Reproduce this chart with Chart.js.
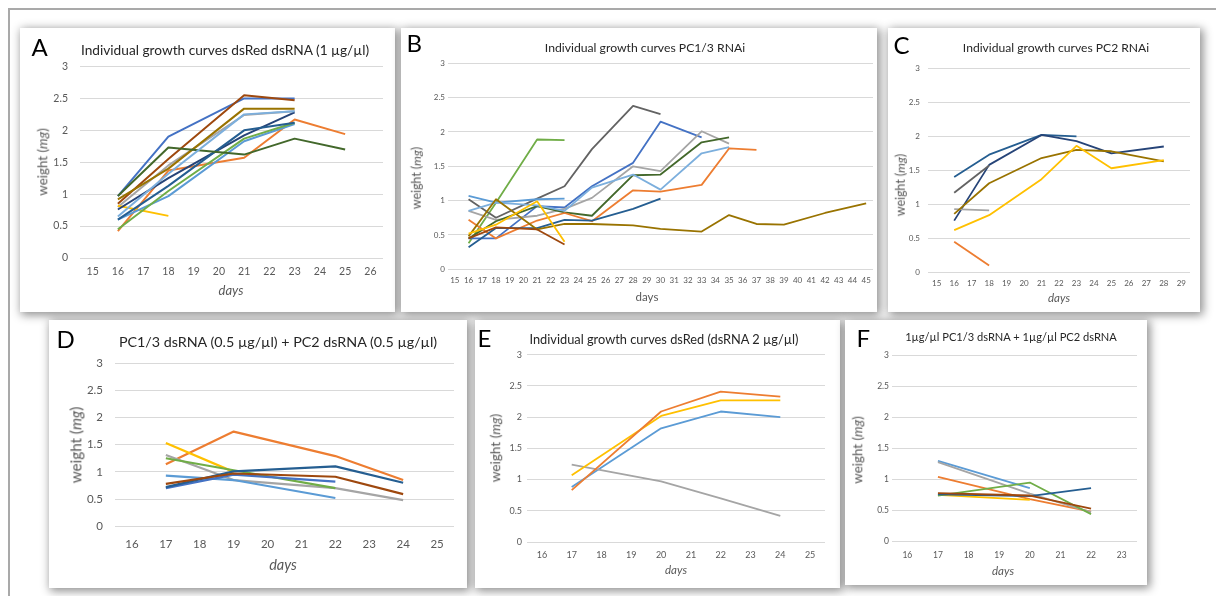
<!DOCTYPE html>
<html>
<head>
<meta charset="utf-8">
<script src="https://cdn.jsdelivr.net/npm/chart.js@4"></script>
<style>
  html, body { margin: 0; padding: 0; background: #fff; }
  body { width: 1216px; height: 596px; position: relative; overflow: hidden; font-family: Lato, "Open Sans", sans-serif; }
  .frame { position: absolute; left: 8px; top: 8px; width: 1220px; height: 600px;
           border-top: 2px solid #a9a9a9; border-left: 2px solid #a9a9a9; }
  .panel { position: absolute; background: #fff; box-shadow: 2px 2px 9px 1px rgba(0,0,0,0.45); }
  .panel canvas { position: absolute; left: 0; top: 0; }
  .letter { position: absolute; font-size: 24px; line-height: 1; color: #000; }
  .title, .ytitle, .xtitle { position: absolute; line-height: 1; white-space: nowrap; transform: translate(-50%, -50%); }
  .title { color: #262626; }
  .ytitle, .xtitle { color: #595959; }
  .ytitle { transform: translate(-50%, -50%) rotate(-90deg); }
</style>
</head>
<body>
<div class="frame"></div>

<div class="panel" style="left:20px;top:28px;width:375px;height:284px">
  <canvas id="chartA" width="375" height="284"></canvas>
  <div class="letter" style="left:11.5px;top:7px">A</div>
  <div class="title" style="left:205px;top:22px;font-size:13.7px">Individual growth curves dsRed dsRNA (1 µg/µl)</div>
  <div class="ytitle" style="left:22.5px;top:134px;font-size:13.4px">weight (<i>mg</i>)</div>
  <div class="xtitle" style="left:211px;top:262px;font-size:13px"><i>days</i></div>
</div>

<div class="panel" style="left:401px;top:28px;width:476px;height:284px">
  <canvas id="chartB" width="476" height="284"></canvas>
  <div class="letter" style="left:5.5px;top:3px">B</div>
  <div class="title" style="left:244px;top:20px;font-size:12.2px">Individual growth curves PC1/3 RNAi</div>
  <div class="ytitle" style="left:15.5px;top:150px;font-size:12.4px">weight (<i>mg</i>)</div>
  <div class="xtitle" style="left:246px;top:269px;font-size:11.5px">days</div>
</div>

<div class="panel" style="left:888px;top:28px;width:312px;height:284px">
  <canvas id="chartC" width="312" height="284"></canvas>
  <div class="letter" style="left:5.5px;top:5px">C</div>
  <div class="title" style="left:168px;top:20px;font-size:12.1px">Individual growth curves PC2 RNAi</div>
  <div class="ytitle" style="left:12.5px;top:157px;font-size:12.4px">weight (<i>mg</i>)</div>
  <div class="xtitle" style="left:171px;top:270px;font-size:11.5px"><i>days</i></div>
</div>

<div class="panel" style="left:49px;top:320px;width:418px;height:268px">
  <canvas id="chartD" width="418" height="268"></canvas>
  <div class="letter" style="left:7.5px;top:7px">D</div>
  <div class="title" style="left:229px;top:22px;font-size:14.3px">PC1/3 dsRNA (0.5 µg/µl) + PC2 dsRNA (0.5 µg/µl)</div>
  <div class="ytitle" style="left:27px;top:125px;font-size:15.2px">weight (<i>mg</i>)</div>
  <div class="xtitle" style="left:234px;top:245px;font-size:14.5px"><i>days</i></div>
</div>

<div class="panel" style="left:475px;top:320px;width:365px;height:268px">
  <canvas id="chartE" width="365" height="268"></canvas>
  <div class="letter" style="left:2.5px;top:6px">E</div>
  <div class="title" style="left:189px;top:19px;font-size:12.8px">Individual growth curves dsRed (dsRNA 2 µg/µl)</div>
  <div class="ytitle" style="left:21px;top:128px;font-size:13.6px">weight (<i>mg</i>)</div>
  <div class="xtitle" style="left:201px;top:250px;font-size:11.5px"><i>days</i></div>
</div>

<div class="panel" style="left:845px;top:320px;width:302px;height:265px">
  <canvas id="chartF" width="302" height="265"></canvas>
  <div class="letter" style="left:11.5px;top:6px">F</div>
  <div class="title" style="left:166px;top:17px;font-size:11.1px">1µg/µl PC1/3 dsRNA + 1µg/µl PC2 dsRNA</div>
  <div class="ytitle" style="left:13px;top:130px;font-size:13.4px">weight (<i>mg</i>)</div>
  <div class="xtitle" style="left:158px;top:251px;font-size:11.5px"><i>days</i></div>
</div>

<script>
// Excel-style series colours
const BLUE = '#4472C4', ORANGE = '#ED7D31', GRAY = '#A5A5A5', YELLOW = '#FFC000',
      LBLUE = '#5B9BD5', GREEN = '#70AD47', NAVY = '#264478', BROWN = '#9E480E',
      DGRAY = '#636363', OLIVE = '#997300', STEEL = '#255E91', DGREEN = '#43682B', SKY = '#7CAFDD';

function range(a, b) { const r = []; for (let i = a; i <= b; i++) r.push(String(i)); return r; }

// A - dsRed dsRNA (1 ug/ul)
const aDays = range(15, 26);
const aSampleDays = [16, 18, 21, 23, 25];
const aWeights = [
    [0.97, 1.90, 2.50, 2.50, null],
    [0.42, 1.37, 1.57, 2.17, 1.94],
    [0.80, 1.45, 2.24, 2.30, null],
    [0.82, 0.66, null, null, null],
    [0.60, 0.97, 1.83, 2.10, null],
    [0.45, 1.05, 1.87, 2.12, null],
    [0.76, 1.25, 1.92, 2.28, null],
    [0.85, 1.55, 2.55, 2.47, null],
    [0.92, 1.40, 2.34, 2.34, null],
    [0.60, 1.13, 2.00, 2.12, null],
    [0.97, 1.73, 1.62, 1.87, 1.70],
    [0.65, 1.32, 2.25, 2.30, null]
];
const aColors = [BLUE, ORANGE, GRAY, YELLOW, LBLUE, GREEN, NAVY, BROWN, OLIVE, STEEL, DGREEN, SKY];

// B - PC1/3 RNAi
const bDays = range(15, 45);
const bSampleDays = [16, 18, 21, 23, 25, 28, 30, 33, 35, 37, 39, 42, 45];
const bWeights = [
    [0.38, 0.97, 1.89, 1.88, null, null, null, null, null, null, null, null, null],
    [1.02, 0.75, 1.03, 1.21, 1.75, 2.38, 2.26, null, null, null, null, null, null],
    [0.45, 0.45, 0.92, 0.90, 1.21, 1.55, 2.15, 1.92, null, null, null, null, null],
    [0.85, 0.72, 0.78, 0.88, 1.04, 1.50, 1.43, 2.01, 1.83, null, null, null, null],
    [0.45, 0.70, 0.92, 0.83, 0.78, 1.37, 1.38, 1.85, 1.92, null, null, null, null],
    [1.07, 0.97, 1.02, 1.03, null, null, null, null, null, null, null, null, null],
    [0.85, 0.97, 0.93, 0.85, 1.19, 1.38, 1.16, 1.69, 1.78, null, null, null, null],
    [0.72, 0.45, 0.71, 0.82, 0.70, 1.15, 1.13, 1.23, 1.76, 1.74, null, null, null],
    [0.32, 0.60, 0.60, 0.72, 0.71, 0.88, 1.03, null, null, null, null, null, null],
    [0.48, 1.02, 0.58, 0.66, 0.66, 0.64, 0.59, 0.55, 0.79, 0.66, 0.65, 0.82, 0.96],
    [0.45, 0.61, 0.58, 0.36, null, null, null, null, null, null, null, null, null],
    [0.52, 0.65, 0.99, 0.40, null, null, null, null, null, null, null, null, null]
];
const bColors = [GREEN, DGRAY, BLUE, GRAY, DGREEN, LBLUE, SKY, ORANGE, STEEL, OLIVE, BROWN, YELLOW];

// C - PC2 RNAi
const cDays = range(15, 29);
const cSampleDays = [16, 18, 21, 23, 25, 28];
const cWeights = [
    [1.40, 1.73, 2.02, 2.00, null, null],
    [0.76, 1.58, 2.02, 1.93, 1.75, 1.85],
    [1.17, 1.57, null, null, null, null],
    [0.93, 0.91, null, null, null, null],
    [0.86, 1.31, 1.68, 1.80, 1.78, 1.63],
    [0.62, 0.84, 1.37, 1.86, 1.53, 1.65],
    [0.45, 0.10, null, null, null, null]
];
const cColors = [STEEL, NAVY, DGRAY, GRAY, OLIVE, YELLOW, ORANGE];

// D - PC1/3 + PC2 dsRNA (0.5 ug/ul each)
const dDays = range(16, 25);
const dSampleDays = [17, 19, 22, 24];
const dWeights = [
    [1.14, 1.74, 1.29, 0.85],
    [1.53, 1.00, null, null],
    [1.31, 0.85, 0.70, 0.48],
    [1.25, 1.03, 0.70, null],
    [0.93, 0.85, 0.52, null],
    [0.70, 0.95, 0.82, null],
    [0.72, 1.01, 1.10, 0.80],
    [0.78, 0.97, 0.91, 0.59]
];
const dColors = [ORANGE, YELLOW, GRAY, GREEN, LBLUE, BLUE, STEEL, BROWN];

// E - dsRed (dsRNA 2 ug/ul)
const eDays = range(16, 25);
const eSampleDays = [17, 20, 22, 24];
const eWeights = [
    [0.88, 1.82, 2.09, 2.00],
    [1.24, 0.97, 0.70, 0.42],
    [1.07, 2.02, 2.27, 2.27],
    [0.83, 2.09, 2.41, 2.33]
];
const eColors = [LBLUE, GRAY, YELLOW, ORANGE];

// F - 1ug/ul PC1/3 + 1ug/ul PC2
const fDays = range(16, 23);
const fSampleDays = [17, 20, 22];
const fWeights = [
    [1.30, 0.86, null],
    [1.04, 0.68, 0.48],
    [1.28, 0.77, 0.47],
    [0.75, 0.67, null],
    [0.74, 0.95, 0.44],
    [0.76, 0.73, 0.86],
    [0.78, 0.74, 0.53]
];
const fColors = [LBLUE, ORANGE, GRAY, YELLOW, GREEN, STEEL, BROWN];

const yTicks = [0, 0.5, 1, 1.5, 2, 2.5, 3];

Chart.defaults.font.family = 'Lato, "Open Sans", sans-serif';
Chart.defaults.color = '#595959';

function makeChart(id, days, sampleDays, weights, colors, box) {
    const datasets = weights.map(function (vals, i) {
        const pts = [];
        sampleDays.forEach(function (d, j) {
            if (vals[j] !== null) pts.push({ x: String(d), y: vals[j] });
        });
        return {
            data: pts,
            borderColor: colors[i],
            borderWidth: box.lw,
            pointRadius: 0,
            tension: 0,
            borderJoinStyle: 'round',
            order: weights.length - i
        };
    });

    new Chart(document.getElementById(id), {
        type: 'line',
        data: { labels: days, datasets: datasets },
        options: {
            responsive: false,
            animation: false,
            events: [],
            layout: { padding: { left: 0, top: box.top, right: box.right, bottom: 0 } },
            plugins: { legend: { display: false }, title: { display: false }, tooltip: { enabled: false } },
            scales: {
                x: {
                    type: 'category',
                    offset: true,
                    grid: { display: false, drawTicks: false },
                    border: { display: false },
                    ticks: { autoSkip: false, maxRotation: 0, padding: box.xPad, font: { size: box.fs } },
                    afterFit: function (s) { s.height = box.xh; }
                },
                y: {
                    min: 0, max: 3,
                    afterBuildTicks: function (s) { s.ticks = yTicks.map(function (v) { return { value: v }; }); },
                    grid: { color: '#d9d9d9', lineWidth: 1, drawTicks: false },
                    border: { display: false },
                    ticks: {
                        padding: box.yPad,
                        font: { size: box.fs },
                        callback: function (v) { return String(v); }
                    },
                    afterFit: function (s) { s.width = box.yw; }
                }
            }
        }
    });
}

makeChart('chartA', aDays, aSampleDays, aWeights, aColors,
    { yw: 60, top: 38.5, right: 12, xh: 54, fs: 10.5, yPad: 12, xPad: 7, lw: 2 });
makeChart('chartB', bDays, bSampleDays, bWeights, bColors,
    { yw: 47, top: 35.3, right: 4, xh: 42.7, fs: 8, yPad: 3, xPad: 6, lw: 1.8 });
makeChart('chartC', cDays, cSampleDays, cWeights, cColors,
    { yw: 40, top: 40.3, right: 10, xh: 39.7, fs: 8, yPad: 8, xPad: 6, lw: 1.8 });
makeChart('chartD', dDays, dSampleDays, dWeights, dColors,
    { yw: 66, top: 43, right: 13, xh: 61.7, fs: 11.5, yPad: 12, xPad: 11, lw: 2.2 });
makeChart('chartE', eDays, eSampleDays, eWeights, eColors,
    { yw: 52, top: 34.7, right: 15, xh: 46, fs: 9, yPad: 5, xPad: 8, lw: 1.8 });
makeChart('chartF', fDays, fSampleDays, fWeights, fColors,
    { yw: 47, top: 35.7, right: 10, xh: 43.7, fs: 8.5, yPad: 3, xPad: 8.5, lw: 1.8 });
</script>
</body>
</html>
